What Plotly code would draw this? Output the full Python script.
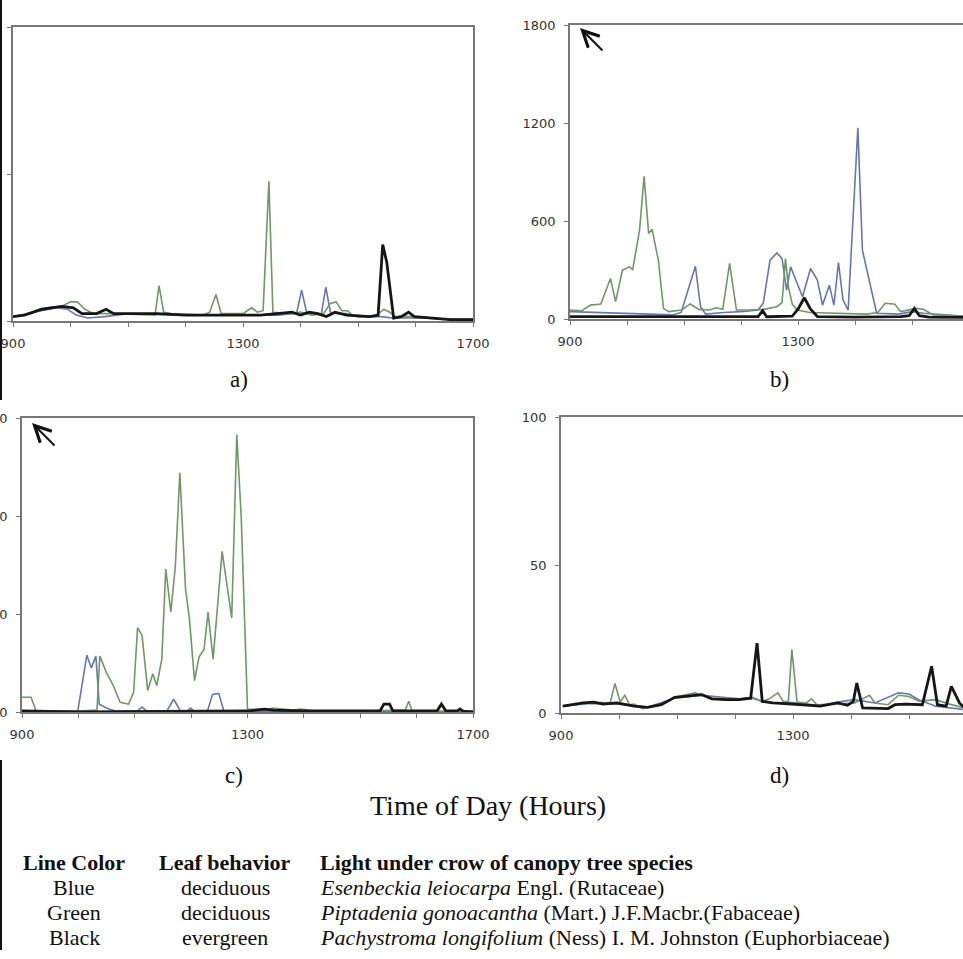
import plotly.graph_objs as go

# Time of day (HHMM read as a number) and light readings for each panel.
# Panel a
a_blue_x = [900, 940, 975, 995, 1010, 1030, 1060, 1100, 1200, 1300, 1360, 1385, 1393, 1402, 1411,
            1425, 1436, 1444, 1452, 1465, 1480, 1500, 1540, 1560, 1600, 1700]
a_blue_y = [3, 6, 9, 8, 4, 2, 3, 5, 4, 4, 4, 5, 5, 21, 5, 5, 4, 23, 6, 5, 5, 3, 3, 2, 2, 1]
a_green_x = [900, 930, 960, 985, 1000, 1012, 1025, 1040, 1080, 1140, 1147, 1154, 1162, 1175, 1230,
             1242, 1253, 1262, 1300, 1315, 1325, 1335, 1345, 1352, 1380, 1400, 1420, 1440, 1452,
             1462, 1472, 1482, 1490, 1530, 1545, 1555, 1565, 1600, 1650, 1700]
a_green_y = [3, 5, 9, 10, 13, 13, 8, 5, 5, 4, 4, 24, 6, 5, 4, 6, 18, 5, 5, 9, 6, 7, 95, 6, 5, 6,
             4, 5, 12, 13, 7, 7, 4, 3, 8, 6, 3, 3, 1, 1]
a_black_x = [900, 920, 950, 985, 1005, 1020, 1045, 1062, 1075, 1100, 1150, 1200, 1250, 1300, 1330,
             1360, 1385, 1400, 1415, 1430, 1445, 1460, 1480, 1520, 1535, 1543, 1550, 1562, 1575,
             1588, 1598, 1630, 1660, 1700]
a_black_y = [3, 4, 8, 10, 9, 5, 5, 8, 5, 5, 5, 4, 4, 4, 4, 5, 6, 4, 6, 5, 3, 6, 4, 3, 4, 52, 40,
             2, 3, 6, 3, 2, 1, 1]

# Panel b
b_blue_x = [900, 950, 1000, 1050, 1080, 1095, 1102, 1120, 1129, 1138, 1170, 1200, 1230, 1239, 1251,
            1263, 1272, 1280, 1287, 1299, 1308, 1322, 1334, 1343, 1355, 1363, 1371, 1379, 1388,
            1405, 1413, 1438, 1477, 1500, 1520, 1600]
b_blue_y = [45, 40, 35, 30, 25, 40, 116, 323, 75, 30, 40, 45, 55, 96, 360, 405, 370, 177, 319, 218,
            136, 309, 238, 85, 207, 85, 346, 116, 55, 1170, 421, 35, 30, 45, 35, 15]
b_green_x = [900, 920, 936, 954, 971, 980, 992, 1004, 1010, 1022, 1030, 1038, 1044, 1055, 1064,
             1073, 1096, 1111, 1126, 1145, 1156, 1168, 1180, 1192, 1215, 1240, 1263, 1272, 1278,
             1283, 1290, 1299, 1320, 1360, 1420, 1440, 1453, 1470, 1480, 1507, 1520, 1537, 1600]
b_green_y = [55, 50, 85, 92, 248, 106, 299, 319, 303, 543, 873, 523, 549, 360, 65, 45, 55, 92, 59,
             55, 69, 59, 340, 55, 55, 59, 75, 100, 370, 200, 90, 55, 40, 35, 30, 40, 96, 90, 45,
             65, 60, 25, 15]
b_black_x = [900, 1000, 1100, 1200, 1230, 1238, 1245, 1290, 1300, 1311, 1322, 1334, 1400, 1480,
             1495, 1504, 1513, 1530, 1600]
b_black_y = [14, 14, 12, 14, 15, 51, 14, 18, 60, 130, 60, 15, 12, 14, 20, 65, 20, 12, 10]

# Panel c
c_blue_x = [900, 999, 1015, 1023, 1031, 1037, 1050, 1065, 1104, 1113, 1121, 1157, 1169, 1181, 1193,
            1199, 1205, 1229, 1238, 1249, 1258, 1700]
c_blue_y = [0, 1, 58, 45, 57, 8, 4, 1, 1, 5, 1, 1, 13, 1, 1, 4, 1, 1, 18, 19, 1, 0]
c_green_x = [900, 916, 925, 1000, 1033, 1038, 1050, 1062, 1074, 1089, 1098, 1105, 1113, 1123, 1132,
             1139, 1148, 1155, 1164, 1172, 1180, 1190, 1197, 1206, 1214, 1223, 1230, 1239, 1255,
             1272, 1281, 1289, 1300, 1330, 1345, 1360, 1380, 1395, 1420, 1500, 1580, 1586, 1592,
             1700]
c_green_y = [15, 15, 1, 1, 2, 57, 40, 27, 10, 8, 20, 86, 78, 22, 39, 27, 54, 146, 102, 149, 244,
             126, 95, 32, 56, 64, 102, 54, 164, 96, 283, 197, 3, 2, 4, 3, 2, 3, 1, 1, 2, 11, 1, 1]
c_black_x = [900, 1000, 1300, 1330, 1345, 1400, 1535, 1542, 1552, 1558, 1636, 1644, 1652, 1672,
             1677, 1682, 1700]
c_black_y = [1, 0, 1, 3, 2, 1, 1, 8, 8, 1, 1, 8, 1, 1, 3, 1, 0]

# Panel d
d_blue_x = [903, 950, 1000, 1050, 1096, 1143, 1207, 1230, 1247, 1265, 1300, 1347, 1377, 1406, 1441,
            1482, 1500, 1517, 1546, 1599]
d_blue_y = [2.3, 3.2, 3, 2, 5, 6, 4.8, 5, 3.9, 3.4, 3.5, 2.5, 3.7, 4.5, 3.4, 6.8, 6.4, 4.5, 2.3, 1.1]
d_green_x = [903, 950, 985, 993, 1002, 1010, 1018, 1026, 1040, 1070, 1096, 1131, 1160, 1207, 1230,
             1247, 1259, 1274, 1283, 1292, 1298, 1307, 1323, 1332, 1341, 1377, 1406, 1432, 1441,
             1464, 1482, 1500, 1517, 1546, 1570, 1599]
d_green_y = [2.3, 3.5, 3.5, 10, 3.7, 6, 2.8, 3, 1.5, 2.8, 5.3, 6.8, 5, 4.8, 5.3, 3.9, 4.8, 6.8, 3.9,
             3.9, 21.4, 3.7, 3.4, 4.8, 2.8, 3, 3.4, 6, 3.4, 2.8, 6, 5.6, 4, 4.5, 3, 1.5]
d_black_x = [903, 938, 956, 973, 996, 1026, 1049, 1073, 1096, 1125, 1143, 1160, 1184, 1207, 1227,
             1238, 1247, 1265, 1289, 1312, 1347, 1377, 1394, 1404, 1410, 1420, 1464, 1476, 1494,
             1523, 1539, 1549, 1564, 1573, 1587, 1599]
d_black_y = [2.3, 3.4, 3.7, 3, 3.4, 2.3, 1.9, 2.8, 5.3, 6, 6.2, 4.8, 4.5, 4.5, 5, 23.6, 3.9, 3.4, 3,
             2.8, 2.3, 3.4, 2.6, 3.9, 10.1, 1.7, 1.5, 2.8, 3, 2.8, 15.8, 2.8, 2.3, 9, 3.4, 1.1]

x_ticks = [900, 1000, 1100, 1200, 1300, 1400, 1500, 1600, 1700]
x_tick_text = ['900', '', '', '', '1300', '', '', '', '1700']

blue = '#6677b0'
green = '#6f9866'
black = '#161616'

panels = [
    ('', a_blue_x, a_blue_y, a_green_x, a_green_y, a_black_x, a_black_y),
    ('2', b_blue_x, b_blue_y, b_green_x, b_green_y, b_black_x, b_black_y),
    ('3', c_blue_x, c_blue_y, c_green_x, c_green_y, c_black_x, c_black_y),
    ('4', d_blue_x, d_blue_y, d_green_x, d_green_y, d_black_x, d_black_y),
]

data = []
for n, bx, by, gx, gy, kx, ky in panels:
    data.append(go.Scatter(x=bx, y=by, mode='lines', line=dict(color=blue, width=1.6),
                           xaxis='x' + n, yaxis='y' + n, showlegend=False))
    data.append(go.Scatter(x=gx, y=gy, mode='lines', line=dict(color=green, width=1.6),
                           xaxis='x' + n, yaxis='y' + n, showlegend=False))
    data.append(go.Scatter(x=kx, y=ky, mode='lines', line=dict(color=black, width=2.8),
                           xaxis='x' + n, yaxis='y' + n, showlegend=False))

W, H = 963, 959
tick_font = dict(family='DejaVu Sans', size=13, color='#333')


def x_axis(left, right, anchor, xmax):
    return dict(domain=[left / W, right / W], anchor=anchor, range=[900, xmax],
                tickvals=x_ticks, ticktext=x_tick_text, ticks='outside', ticklen=4,
                tickcolor='#777', showline=True, linecolor='#777', linewidth=1.5,
                mirror=True, showgrid=False, zeroline=False, automargin=False,
                tickfont=tick_font, ticklabelstandoff=6)


def y_axis(bottom, top, anchor, ymax, dtick, mirror, labels=True):
    return dict(domain=[1 - bottom / H, 1 - top / H], anchor=anchor, range=[0, ymax],
                dtick=dtick, ticks='outside', ticklen=4, tickcolor='#777', showline=True,
                linecolor='#777', linewidth=1.5, mirror=mirror, showgrid=False,
                zeroline=False, automargin=False, tickfont=tick_font, ticklabelstandoff=6,
                showticklabels=labels)


def note(text, x, y, size, anchor='center', bold=False):
    return dict(text=text, x=x / W, y=1 - y / H, xref='paper', yref='paper',
                xanchor=anchor, yanchor='middle', showarrow=False,
                font=dict(family='Liberation Serif', size=size, color='#111'))


annotations = []
for label, x, y in [('a)', 239, 380), ('b)', 779, 380), ('c)', 234, 775), ('d)', 779, 775)]:
    annotations.append(note(label, x, y, 23))
annotations.append(note('Time of Day (Hours)', 488, 805, 28))

# off-scale arrows in b) and c)
for hx, hy in [(580, 28), (32, 423)]:
    annotations.append(dict(text='', x=hx / W, y=1 - hy / H, xref='paper', yref='paper',
                            showarrow=True, ax=24, ay=24, arrowhead=5, arrowsize=1.6,
                            arrowwidth=2, arrowcolor='#111'))

# legend table under the panels
table_rows = [
    ('<b>Line Color</b>', '<b>Leaf behavior</b>', '<b>Light under crow of canopy tree species</b>'),
    ('Blue', 'deciduous', '<i>Esenbeckia leiocarpa</i> Engl. (Rutaceae)'),
    ('Green', 'deciduous', '<i>Piptadenia gonoacantha</i> (Mart.) J.F.Macbr.(Fabaceae)'),
    ('Black', 'evergreen', '<i>Pachystroma longifolium</i> (Ness) I. M. Johnston (Euphorbiaceae)'),
]
row_y = [862, 887, 912, 937]
for (c1, c2, c3), y in zip(table_rows, row_y):
    annotations.append(note(c1, 74, y, 22))
    annotations.append(note(c2, 225, y, 22))
    annotations.append(note(c3, 318, y, 22, anchor='left'))

# dark edge of the scanned page on the left
shapes = [
    dict(type='line', xref='paper', yref='paper', x0=1 / W, x1=1 / W, y0=1, y1=1 - 400 / H,
         line=dict(color='#111', width=2)),
    dict(type='line', xref='paper', yref='paper', x0=1 / W, x1=1 / W, y0=1 - 760 / H,
         y1=1 - 950 / H, line=dict(color='#111', width=2)),
]

layout = go.Layout(
    width=W, height=H, autosize=False, template='none',
    margin=dict(l=0, r=0, t=0, b=0),
    paper_bgcolor='white', plot_bgcolor='white', showlegend=False,
    xaxis=x_axis(13, 473, 'y', 1700),
    yaxis=y_axis(321, 27, 'x', 200, 100, True, labels=False),
    xaxis2=x_axis(570, W, 'y2', 900 + (W - 570) / 0.57),
    yaxis2=y_axis(319, 25, 'x2', 1800, 600, False),
    xaxis3=x_axis(22, 473, 'y3', 1700),
    yaxis3=y_axis(712, 418, 'x3', 300, 100, True),
    xaxis4=x_axis(561, W, 'y4', 900 + (W - 561) / 0.58),
    yaxis4=y_axis(713, 417, 'x4', 100, 50, False),
    annotations=annotations, shapes=shapes,
)

fig = go.Figure(data=data, layout=layout)
fig.write_html("out.html", config={'displayModeBar': False},
               post_script="document.body.style.margin = '0';")
